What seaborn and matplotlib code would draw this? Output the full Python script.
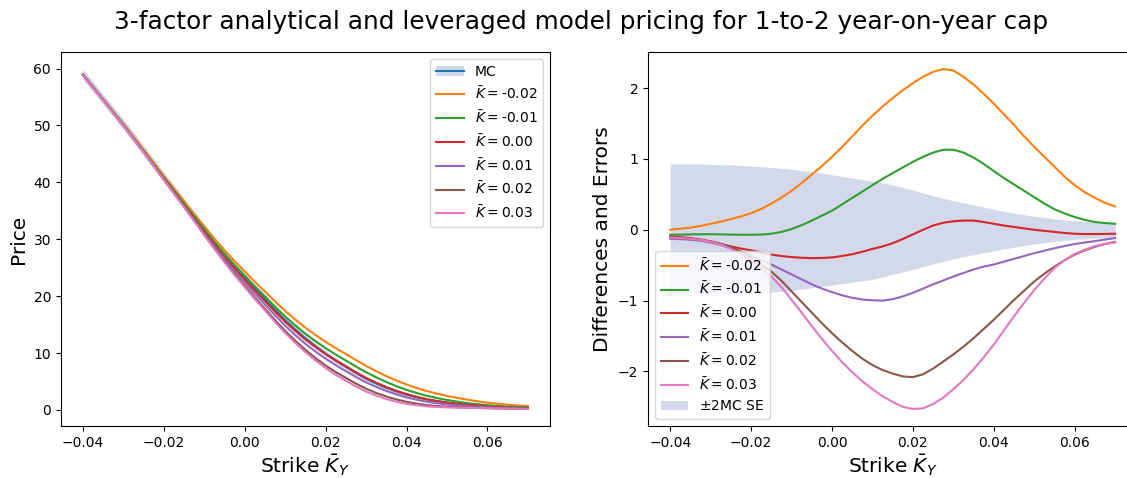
import numpy as np
import matplotlib
matplotlib.use("Agg")
import matplotlib.pyplot as plt
import seaborn as sns
from matplotlib.lines import Line2D
from matplotlib.patches import Patch

# strikes, every 0.0025 from -0.04 to 0.07
strikes = [-0.0400, -0.0375, -0.0350, -0.0325, -0.0300, -0.0275, -0.0250, -0.0225,
           -0.0200, -0.0175, -0.0150, -0.0125, -0.0100, -0.0075, -0.0050, -0.0025,
           0.0000, 0.0025, 0.0050, 0.0075, 0.0100, 0.0125, 0.0150, 0.0175,
           0.0200, 0.0225, 0.0250, 0.0275, 0.0300, 0.0325, 0.0350, 0.0375,
           0.0400, 0.0425, 0.0450, 0.0475, 0.0500, 0.0525, 0.0550, 0.0575,
           0.0600, 0.0625, 0.0650, 0.0675, 0.0700]

# Monte Carlo price
mc_price = [59.0, 56.8, 54.6, 52.4, 50.2, 47.9, 45.6, 43.25,
            40.9, 38.6, 36.3, 34.0, 31.7, 29.45, 27.3, 25.25,
            23.3, 21.35, 19.5, 17.6, 15.8, 14.15, 12.6, 11.2,
            9.9, 8.7, 7.6, 6.5, 5.5, 4.65, 3.9, 3.25,
            2.7, 2.25, 1.85, 1.55, 1.3, 1.1, 0.92, 0.78,
            0.66, 0.56, 0.48, 0.41, 0.35]

# +/- 2 MC standard errors
se_upper = [0.93, 0.93, 0.93, 0.928, 0.925, 0.92, 0.915, 0.908,
            0.90, 0.89, 0.88, 0.868, 0.855, 0.838, 0.82, 0.80,
            0.775, 0.753, 0.73, 0.71, 0.69, 0.66, 0.63, 0.595,
            0.56, 0.52, 0.48, 0.445, 0.41, 0.38, 0.35, 0.32,
            0.29, 0.262, 0.235, 0.212, 0.19, 0.172, 0.155, 0.14,
            0.127, 0.117, 0.108, 0.10, 0.094]
se_lower = [-0.93, -0.93, -0.93, -0.928, -0.925, -0.92, -0.915, -0.908,
            -0.90, -0.89, -0.88, -0.868, -0.855, -0.838, -0.82, -0.80,
            -0.78, -0.76, -0.74, -0.72, -0.70, -0.665, -0.63, -0.595,
            -0.56, -0.52, -0.48, -0.445, -0.41, -0.38, -0.35, -0.325,
            -0.30, -0.272, -0.245, -0.222, -0.20, -0.182, -0.165, -0.15,
            -0.136, -0.126, -0.117, -0.112, -0.108]

k_bars = ["-0.02", "-0.01", "0.00", "0.01", "0.02", "0.03"]

# model price minus MC price, one list per K-bar
diff_m002 = [0.00, 0.015, 0.03, 0.055, 0.085, 0.115, 0.15, 0.19,
             0.235, 0.295, 0.37, 0.455, 0.55, 0.66, 0.78, 0.90,
             1.03, 1.17, 1.32, 1.47, 1.61, 1.74, 1.86, 1.97,
             2.07, 2.16, 2.23, 2.27, 2.25, 2.16, 2.05, 1.92,
             1.78, 1.63, 1.48, 1.32, 1.17, 1.03, 0.89, 0.75,
             0.63, 0.53, 0.45, 0.38, 0.33]
diff_m001 = [-0.07, -0.068, -0.066, -0.063, -0.062, -0.065, -0.068, -0.07,
             -0.07, -0.067, -0.056, -0.03, 0.01, 0.065, 0.13, 0.20,
             0.27, 0.36, 0.45, 0.54, 0.63, 0.72, 0.80, 0.88,
             0.96, 1.03, 1.09, 1.13, 1.13, 1.09, 1.02, 0.93,
             0.83, 0.73, 0.64, 0.55, 0.46, 0.37, 0.29, 0.23,
             0.18, 0.14, 0.11, 0.095, 0.085]
diff_000 = [-0.094, -0.104, -0.117, -0.138, -0.164, -0.20, -0.235, -0.265,
            -0.29, -0.32, -0.35, -0.37, -0.385, -0.395, -0.40, -0.398,
            -0.39, -0.37, -0.345, -0.31, -0.27, -0.235, -0.19, -0.13,
            -0.065, 0.00, 0.06, 0.10, 0.12, 0.13, 0.13, 0.11,
            0.085, 0.06, 0.04, 0.02, 0.00, -0.015, -0.03, -0.045,
            -0.056, -0.06, -0.06, -0.058, -0.056]
diff_001 = [-0.127, -0.132, -0.14, -0.155, -0.18, -0.215, -0.26, -0.31,
            -0.37, -0.43, -0.49, -0.56, -0.63, -0.70, -0.77, -0.83,
            -0.88, -0.925, -0.96, -0.985, -0.995, -1.0, -0.98, -0.94,
            -0.89, -0.83, -0.77, -0.715, -0.66, -0.61, -0.56, -0.52,
            -0.49, -0.45, -0.41, -0.37, -0.33, -0.295, -0.26, -0.23,
            -0.20, -0.18, -0.16, -0.138, -0.117]
diff_002 = [-0.11, -0.118, -0.127, -0.142, -0.164, -0.20, -0.244, -0.31,
            -0.40, -0.49, -0.59, -0.72, -0.87, -1.02, -1.17, -1.32,
            -1.46, -1.59, -1.71, -1.82, -1.91, -1.98, -2.03, -2.07,
            -2.08, -2.04, -1.96, -1.86, -1.76, -1.65, -1.53, -1.40,
            -1.27, -1.13, -0.99, -0.86, -0.73, -0.62, -0.52, -0.43,
            -0.35, -0.29, -0.24, -0.20, -0.17]
diff_003 = [-0.11, -0.118, -0.127, -0.145, -0.17, -0.21, -0.27, -0.34,
            -0.43, -0.54, -0.66, -0.81, -0.99, -1.17, -1.36, -1.54,
            -1.71, -1.87, -2.01, -2.14, -2.25, -2.35, -2.43, -2.50,
            -2.53, -2.52, -2.46, -2.37, -2.25, -2.12, -1.97, -1.80,
            -1.62, -1.42, -1.22, -1.03, -0.85, -0.69, -0.54, -0.43,
            -0.34, -0.28, -0.23, -0.20, -0.18]
diffs = [diff_m002, diff_m001, diff_000, diff_001, diff_002, diff_003]

colors = ["C1", "C2", "C3", "C4", "C5", "C6"]
band_color = "#d3d8ea"

strikes = np.array(strikes)
mc_price = np.array(mc_price)

fig = plt.figure(figsize=(11.27, 4.78), dpi=100)
ax1 = fig.add_axes([0.0539, 0.1088, 0.4342, 0.7824])
ax2 = fig.add_axes([0.5750, 0.1088, 0.4342, 0.7824])

# ---------------------------------------------------------------------------
# Left: prices
# ---------------------------------------------------------------------------
ax1.fill_between(strikes, mc_price + np.array(se_lower), mc_price + np.array(se_upper),
                 color=band_color, linewidth=0)
sns.lineplot(x=strikes, y=mc_price, color="C0", ax=ax1)
for k, d, c in zip(k_bars, diffs, colors):
    sns.lineplot(x=strikes, y=mc_price + np.array(d), color=c, ax=ax1)

handles1 = [(Patch(facecolor=band_color, edgecolor="none"), Line2D([], [], color="C0"))]
labels1 = ["MC"]
for k, c in zip(k_bars, colors):
    handles1.append(Line2D([], [], color=c))
    labels1.append(r"$\bar{K}=$" + k)
ax1.legend(handles1, labels1, loc="upper right")
ax1.set_ylabel("Price", fontsize=14.5)
ax1.set_xlabel(r"Strike $\bar{K}_Y$", fontsize=14.5, labelpad=2)

# ---------------------------------------------------------------------------
# Right: differences and MC error band
# ---------------------------------------------------------------------------
for k, d, c in zip(k_bars, diffs, colors):
    sns.lineplot(x=strikes, y=d, color=c, ax=ax2, label=r"$\bar{K}=$" + k)
ax2.fill_between(strikes, se_lower, se_upper, color=band_color, linewidth=0,
                 label=r"$\pm$2MC SE")
ax2.legend(loc="lower left")
ax2.set_ylabel("Differences and Errors", fontsize=14.5)
ax2.set_xlabel(r"Strike $\bar{K}_Y$", fontsize=14.5, labelpad=2)

for ax in (ax1, ax2):
    ax.set_xticks([-0.04, -0.02, 0.00, 0.02, 0.04, 0.06])

fig.suptitle("3-factor analytical and leveraged model pricing for 1-to-2 year-on-year cap",
             fontsize=17.8, x=0.516, y=0.954, va="center")

fig.savefig("out.png", dpi=100)
